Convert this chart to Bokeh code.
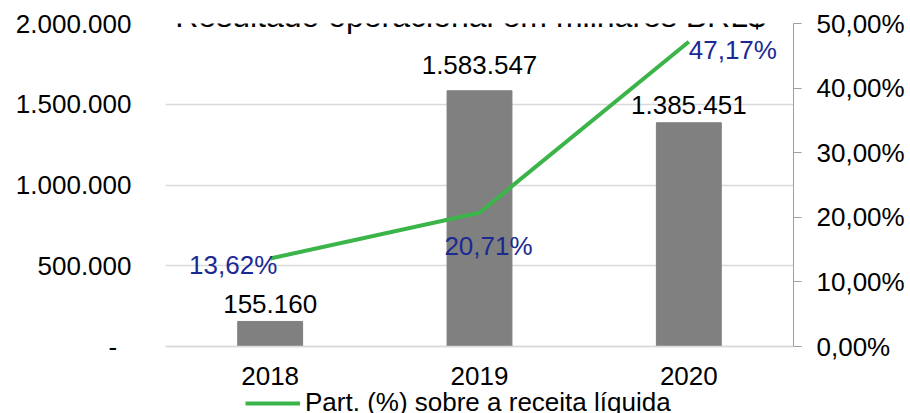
from bokeh.plotting import figure
from bokeh.models import (ColumnDataSource, Range1d, LinearAxis, FixedTicker,
                          Label, Legend, LegendItem)
from bokeh.core.properties import value
from bokeh.embed import file_html
from bokeh.resources import INLINE

# ---- data ----
years = ["2018", "2019", "2020"]
resultado = [155160, 1583547, 1385451]
part_pct = [13.62, 20.71, 47.17]
left_ticks = [0, 500000, 1000000, 1500000, 2000000]
left_tick_labels = ["-\u00a0\u00a0", "500.000", "1.000.000", "1.500.000", "2.000.000"]
right_ticks = [0, 10, 20, 30, 40, 50]
right_tick_labels = ["0,00%", "10,00%", "20,00%", "30,00%", "40,00%", "50,00%"]
title_text = "Resultado operacional em milhares BRL$"
legend_text = "Part. (%) sobre a receita líquida"

FONT = "Liberation Sans"
FS = "26px"
BLUE = "#1B2A92"
GREEN = "#3BB44A"
GRID = "#d9d9d9"

# ---- layout geometry (pixels) ----
W, H = 910, 413
FRAME_TOP = 23      # y of the top gridline
AXIS_Y = 346        # y of the zero baseline
LEFT, RIGHT = 165, 793
Y_MAX, P_MAX = 2000000, 50
# the frame reaches the bottom of the canvas so the legend can sit inside it
ext = (H - AXIS_Y) / (AXIS_Y - FRAME_TOP)
y_lo = -Y_MAX * ext
p_lo = -P_MAX * ext


def br_int(v):
    return f"{v:,}".replace(",", ".")


def br_pct(v):
    return f"{v:.2f}".replace(".", ",") + "%"


bar_src = ColumnDataSource(dict(
    x=years, top=resultado,
    label=[br_int(v) for v in resultado],
    yoff=[-17, -26, -18],
))
line_src = ColumnDataSource(dict(
    x=years, y=part_pct,
    label=[br_pct(v) for v in part_pct],
    xoff=[-37, 9, 44],
    yoff=[6, 33, 8],
))

p = figure(x_range=years, y_range=Range1d(y_lo, Y_MAX),
           width=W, height=H, output_backend="svg", toolbar_location=None,
           min_border_left=LEFT, min_border_right=W - RIGHT,
           min_border_top=FRAME_TOP, min_border_bottom=0)
p.extra_y_ranges = {"pct": Range1d(p_lo, P_MAX)}
p.outline_line_color = None
p.background_fill_color = "white"
p.border_fill_color = "white"

# bars
p.vbar(x="x", top="top", width=0.31, color="#808080", source=bar_src)
p.text(x="x", y="top", text="label", y_offset="yoff", source=bar_src,
       text_align="center", text_baseline="middle", text_color="black",
       text_font=value(FONT), text_font_size=FS)

# line
ln = p.line(x="x", y="y", y_range_name="pct", line_color=GREEN, line_width=4,
            source=line_src)
p.text(x="x", y="y", text="label", x_offset="xoff", y_offset="yoff",
       y_range_name="pct", source=line_src,
       text_align="center", text_baseline="middle", text_color=BLUE,
       text_font=value(FONT), text_font_size=FS)

# axes
p.xaxis.fixed_location = 0
p.xaxis.axis_line_color = GRID
p.xaxis.axis_line_width = 1.5
p.xaxis.major_tick_line_color = None
p.xaxis.major_tick_out = 0
p.xaxis.minor_tick_line_color = None
p.xaxis.major_label_standoff = 20
p.xaxis.major_label_text_font = FONT
p.xaxis.major_label_text_font_size = FS
p.xaxis.major_label_text_color = "black"

p.yaxis.ticker = FixedTicker(ticks=left_ticks)
p.yaxis.bounds = (0, Y_MAX)
p.yaxis.major_label_overrides = dict(zip(left_ticks, left_tick_labels))
p.yaxis.axis_line_color = None
p.yaxis.major_tick_line_color = None
p.yaxis.major_tick_out = 0
p.yaxis.minor_tick_line_color = None
p.yaxis.major_label_standoff = 34
p.yaxis.major_label_text_font = FONT
p.yaxis.major_label_text_font_size = FS
p.yaxis.major_label_text_color = "black"

p.xgrid.grid_line_color = None
p.ygrid.ticker = FixedTicker(ticks=left_ticks)
p.ygrid.grid_line_color = GRID
p.ygrid.grid_line_width = 1.5

raxis = LinearAxis(y_range_name="pct", ticker=FixedTicker(ticks=right_ticks),
                   bounds=(0, P_MAX))
raxis.major_label_overrides = dict(zip(right_ticks, right_tick_labels))
raxis.axis_line_color = "#a0a0a0"
raxis.major_tick_line_color = "#a0a0a0"
raxis.major_tick_in = 0
raxis.major_tick_out = 8
raxis.minor_tick_line_color = None
raxis.major_label_standoff = 15
raxis.major_label_text_font = FONT
raxis.major_label_text_font_size = FS
raxis.major_label_text_color = "black"
p.add_layout(raxis, "right")

# title (partly cut off at the top, as in the reference)
p.add_layout(Label(x=305, y=H - 15, x_units="screen",
                   y_units="screen", text=title_text, text_align="center",
                   text_baseline="alphabetic", text_font=FONT,
                   text_font_size="32px", text_color="black"))

# legend inside the (extended) frame, below the category labels
legend = Legend(items=[LegendItem(label=legend_text, renderers=[ln])],
                location=(80, -5), orientation="horizontal",
                glyph_width=55, glyph_height=24, label_height=24,
                label_standoff=5, padding=0, margin=0,
                border_line_color=None, background_fill_alpha=0,
                label_text_font=FONT, label_text_font_size=FS,
                label_text_color="black")
p.add_layout(legend, "center")

open("out.html", "w").write(file_html(p, INLINE))
